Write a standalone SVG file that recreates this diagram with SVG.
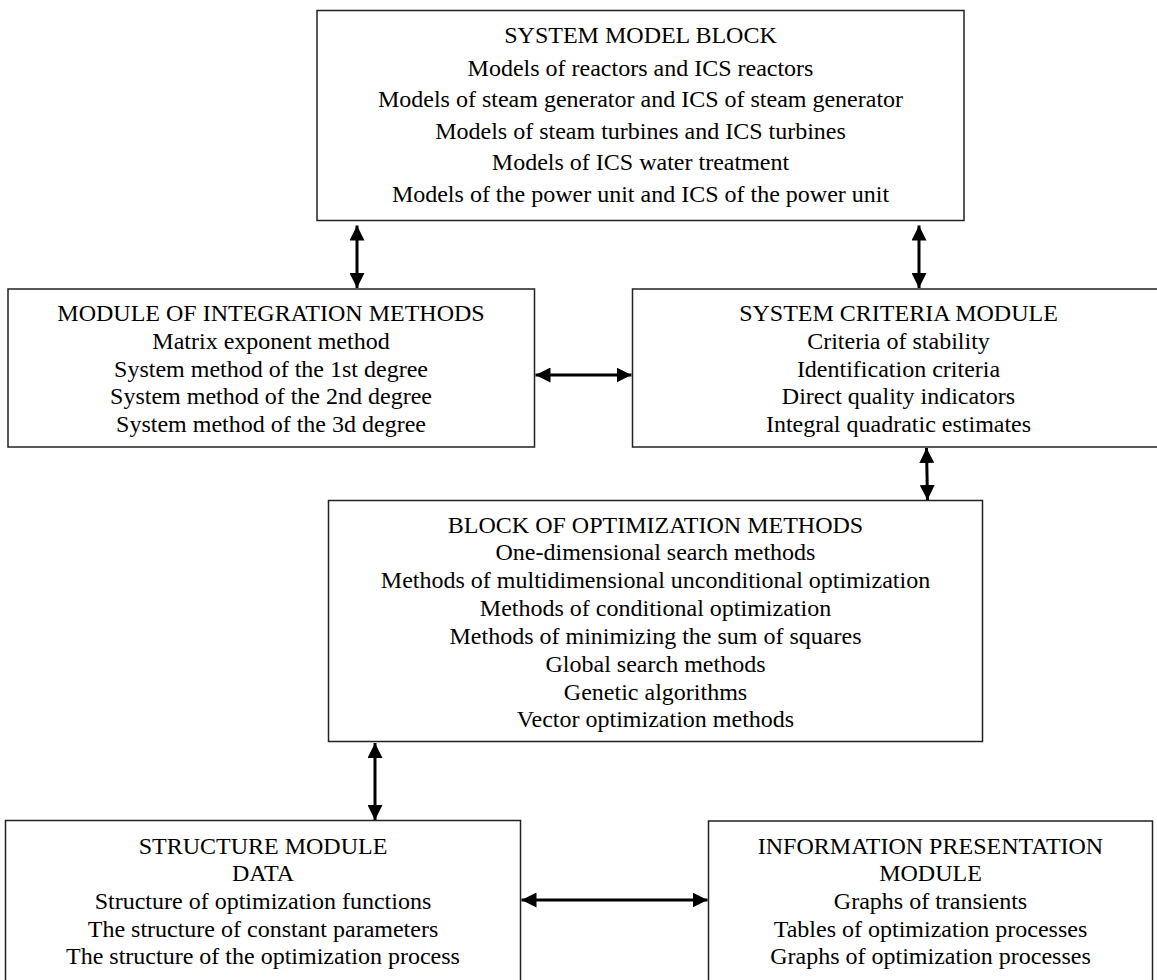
<svg xmlns="http://www.w3.org/2000/svg" width="1157" height="980" viewBox="0 0 1157 980">
<style>
.box{fill:#fff;stroke:#222;stroke-width:1.5}
text{font-family:"Liberation Serif","Times New Roman",serif;font-size:24px;fill:#000;text-anchor:middle}
.conn{stroke:#000;stroke-width:3;fill:none;marker-start:url(#ah);marker-end:url(#ah)}
</style>
<defs>
<marker id="ah" viewBox="0 0 10 10" refX="10" refY="5" markerUnits="userSpaceOnUse" markerWidth="15" markerHeight="15" orient="auto-start-reverse">
<path d="M0,0 L10,5 L0,10 z" fill="#000"/>
</marker>
</defs>
<rect width="1157" height="980" fill="#fff"/>
<g id="system-model-block">
<rect class="box" x="317" y="10.5" width="647" height="210"/>
<text x="640.5" y="43">SYSTEM MODEL BLOCK</text>
<text x="640.5" y="75.5">Models of reactors and ICS reactors</text>
<text x="640.5" y="107">Models of steam generator and ICS of steam generator</text>
<text x="640.5" y="138.5">Models of steam turbines and ICS turbines</text>
<text x="640.5" y="170">Models of ICS water treatment</text>
<text x="640.5" y="201.5">Models of the power unit and ICS of the power unit</text>
</g>
<g id="integration-module">
<rect class="box" x="8" y="289" width="526.5" height="158"/>
<text x="271" y="321">MODULE OF INTEGRATION METHODS</text>
<text x="271" y="348.5">Matrix exponent method</text>
<text x="271" y="376.5">System method of the 1st degree</text>
<text x="271" y="404">System method of the 2nd degree</text>
<text x="271" y="431.5">System method of the 3d degree</text>
</g>
<g id="criteria-module">
<rect class="box" x="632.5" y="289" width="533" height="158"/>
<text x="898.5" y="321">SYSTEM CRITERIA MODULE</text>
<text x="898.5" y="348.5">Criteria of stability</text>
<text x="898.5" y="376.5">Identification criteria</text>
<text x="898.5" y="404">Direct quality indicators</text>
<text x="898.5" y="431.5">Integral quadratic estimates</text>
</g>
<g id="optimization-block">
<rect class="box" x="328.5" y="500.5" width="654" height="241"/>
<text x="655.5" y="532.5">BLOCK OF OPTIMIZATION METHODS</text>
<text x="655.5" y="560">One-dimensional search methods</text>
<text x="655.5" y="588">Methods of multidimensional unconditional optimization</text>
<text x="655.5" y="616">Methods of conditional optimization</text>
<text x="655.5" y="643.5">Methods of minimizing the sum of squares</text>
<text x="655.5" y="671.5">Global search methods</text>
<text x="655.5" y="699.5">Genetic algorithms</text>
<text x="655.5" y="727">Vector optimization methods</text>
</g>
<g id="structure-module">
<rect class="box" x="5.5" y="820.5" width="515" height="180"/>
<text x="263" y="853.5">STRUCTURE MODULE</text>
<text x="263" y="881">DATA</text>
<text x="263" y="908.5">Structure of optimization functions</text>
<text x="263" y="936.5">The structure of constant parameters</text>
<text x="263" y="963.5">The structure of the optimization process</text>
</g>
<g id="presentation-module">
<rect class="box" x="708.5" y="821" width="444" height="180"/>
<text x="930.5" y="853.5">INFORMATION PRESENTATION</text>
<text x="930.5" y="881">MODULE</text>
<text x="930.5" y="908.5">Graphs of transients</text>
<text x="930.5" y="936.5">Tables of optimization processes</text>
<text x="930.5" y="963.5">Graphs of optimization processes</text>
</g>
<g id="connectors">
<line class="conn" x1="357" y1="225.5" x2="357" y2="288"/>
<line class="conn" x1="919" y1="225.5" x2="919" y2="288"/>
<line class="conn" x1="535.5" y1="375" x2="631.5" y2="375"/>
<line class="conn" x1="926.5" y1="448" x2="927.5" y2="500"/>
<line class="conn" x1="375" y1="743" x2="375" y2="820"/>
<line class="conn" x1="521.5" y1="900" x2="707.5" y2="900"/>
</g>
</svg>
